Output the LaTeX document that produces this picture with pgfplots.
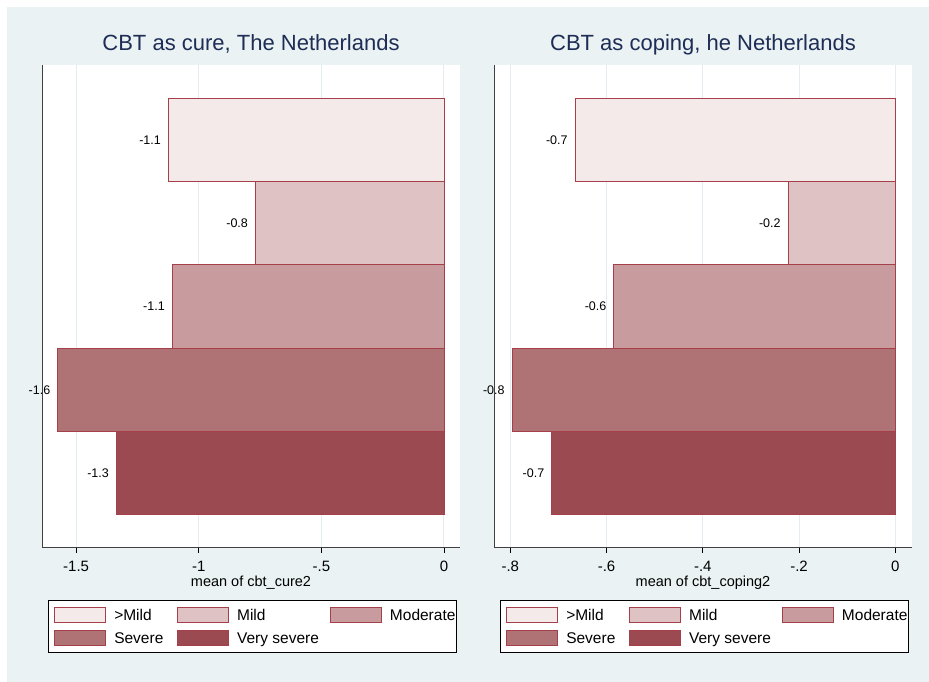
\documentclass[border=0pt]{standalone}
\usepackage{fontspec}
\setmainfont{Liberation Sans}
\usepackage{pgfplots}
\pgfplotsset{compat=1.18}
\definecolor{bgc}{RGB}{234,242,243}
\definecolor{ttl}{RGB}{30,45,85}
\definecolor{gridc}{RGB}{228,237,240}
\definecolor{edgec}{RGB}{165,64,74}
\definecolor{c1}{RGB}{244,234,234}
\definecolor{c2}{RGB}{223,194,196}
\definecolor{c3}{RGB}{200,155,158}
\definecolor{c4}{RGB}{176,115,117}
\definecolor{c5}{RGB}{154,74,80}
\pgfplotsset{
  bstyle/.style={draw=edgec, line width=0.9pt, fill=#1,
    legend image code/.code={\draw[##1,line width=0.8pt] (0pt,-7.5pt) rectangle (51pt,7.5pt); \path (59pt,0pt);}},
  panel/.style={
    scale only axis, width=418pt, height=483pt,
    xbar, bar width=1, bar shift=0pt,
    ymin=0.1, ymax=5.9, ytick=\empty,
    axis x line=bottom, axis y line=left,
    axis line style={-, line width=1pt, black!75},
    axis background/.style={fill=white},
    tick align=outside, major tick length=5pt,
    xtick style={line width=0.8pt, black},
    xmajorgrids, major grid style={gridc, line width=1pt},
    xticklabel style={font=\fontsize{15}{17}\selectfont, anchor=base, yshift=-19pt},
    xlabel style={font=\fontsize{14.5}{16}\selectfont, at={(axis description cs:0.5,0)}, anchor=base, yshift=-39pt},
    title style={font=\fontsize{22}{24}\selectfont, color=ttl, at={(axis description cs:0.5,1)}, anchor=base, yshift=8pt},
    clip=false,
    point meta=x,
    nodes near coords={\pgfmathprintnumber[fixed,fixed zerofill,precision=1,assume math mode=true]{\pgfplotspointmeta}},
    every node near coord/.append style={anchor=east, inner sep=0pt, xshift=-7pt, font=\fontsize{12.5}{14}\selectfont, text=black},
    legend cell align=left,
    legend style={at={(axis description cs:0.0144,0)}, anchor=north west, yshift=-52pt,
      draw=black, line width=0.8pt, fill=white, inner xsep=6pt, inner ysep=6.5pt,
      column sep=0pt, row sep=7pt,
      nodes={inner sep=0pt, text height=12pt, text depth=0pt},
      font=\fontsize{15.5}{17}\selectfont},
    legend columns=3,
  }
}
\begin{document}
\begin{tikzpicture}
\path[fill=white] (0pt,0pt) rectangle (929pt,682pt);
\fill[bgc] (7pt,0pt) rectangle (929pt,675pt);
% left panel
\begin{axis}[panel, at={(42pt,134pt)}, anchor=south west,
  xmin=-1.639, xmax=0.0654,
  xtick={-1.5,-1,-0.5,0}, xticklabels={-1.5,-1,-.5,0},
  xlabel={mean of cbt\_cure2},
  title={CBT as cure, The Netherlands}]
\addplot[bstyle=c1] coordinates {(-1.124,5)};
\addlegendentry{\makebox[63pt][l]{>Mild}}
\addplot[bstyle=c2] coordinates {(-0.769,4)};
\addlegendentry{\makebox[93pt][l]{Mild}}
\addplot[bstyle=c3] coordinates {(-1.108,3)};
\addlegendentry{\makebox[60pt][l]{Moderate}}
\addplot[bstyle=c4] coordinates {(-1.575,2)};
\addlegendentry{\makebox[63pt][l]{Severe}}
\addplot[bstyle=c5] coordinates {(-1.336,1)};
\addlegendentry{\makebox[93pt][l]{Very severe}}
\end{axis}
% right panel
\begin{axis}[panel, at={(494pt,134pt)}, anchor=south west,
  xmin=-0.8339, xmax=0.0347,
  xtick={-0.8,-0.6,-0.4,-0.2,0}, xticklabels={-.8,-.6,-.4,-.2,0},
  xlabel={mean of cbt\_coping2},
  title={CBT as coping, he Netherlands}]
\addplot[bstyle=c1] coordinates {(-0.6656,5)};
\addlegendentry{\makebox[63pt][l]{>Mild}}
\addplot[bstyle=c2] coordinates {(-0.223,4)};
\addlegendentry{\makebox[93pt][l]{Mild}}
\addplot[bstyle=c3] coordinates {(-0.585,3)};
\addlegendentry{\makebox[60pt][l]{Moderate}}
\addplot[bstyle=c4] coordinates {(-0.7965,2)};
\addlegendentry{\makebox[63pt][l]{Severe}}
\addplot[bstyle=c5] coordinates {(-0.714,1)};
\addlegendentry{\makebox[93pt][l]{Very severe}}
\end{axis}
\end{tikzpicture}
\end{document}
